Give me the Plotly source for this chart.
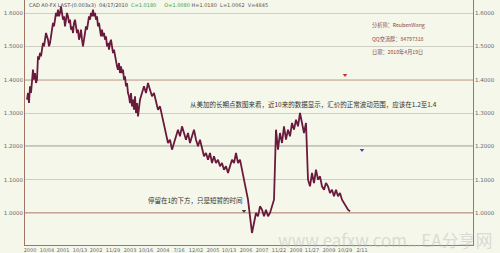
import plotly.graph_objects as go

# ---------------- data ----------------
# bar number (position along the time axis) and price of USD/CAD
bar = [2, 3, 4, 5, 6, 7, 8, 9, 10, 11, 12, 13, 14, 15, 16, 17, 18, 19, 20, 21, 22, 23, 24, 25, 26,
       27, 28, 29, 30, 31, 32, 33, 34, 35, 36, 37, 38, 39, 40, 41, 42, 43, 44, 45, 46, 47, 48, 49,
       50, 51, 52, 53, 54, 55, 56, 57, 58, 59, 60, 61, 62, 63, 64, 65, 66, 67, 68, 69, 70, 71, 72,
       73, 74, 75, 76, 77, 78, 79, 80, 81, 82, 83, 84, 85, 86, 87, 88, 89, 90, 91, 92, 93, 94, 95,
       96, 97, 98, 99, 100, 101, 102, 103, 104, 105, 106, 107, 108, 109, 110, 111, 112, 113, 114,
       115, 117, 119, 121, 123, 125, 127, 129, 131, 133, 135, 137, 139, 141, 143, 145, 147, 149,
       151, 153, 155, 157, 159, 161, 163, 165, 167, 169, 171, 173, 175, 177, 179, 181, 183, 185,
       187, 189, 191, 193, 195, 197, 199, 201, 203, 205, 207, 209, 211, 213, 215, 217, 219, 221,
       223, 225, 227, 229, 231, 233, 235, 237, 239, 241, 243, 245, 247, 249, 251, 253, 255, 257,
       259, 261, 263, 265, 267, 269, 271, 273, 275, 277, 279, 281, 283, 285, 287, 289, 291, 293,
       295, 297, 299, 301, 303, 305, 307, 309, 311, 313, 315, 317, 319, 321, 323, 325, 327, 329,
       331, 333, 335, 337, 339, 341, 343, 345, 347]
price = [1.34, 1.36, 1.33, 1.38, 1.36, 1.41, 1.43, 1.40, 1.42, 1.39, 1.40, 1.47, 1.46, 1.48, 1.47,
         1.49, 1.51, 1.50, 1.52, 1.54, 1.53, 1.52, 1.50, 1.51, 1.53, 1.55, 1.57, 1.56, 1.58, 1.60,
         1.59, 1.61, 1.59, 1.60, 1.62, 1.60, 1.58, 1.59, 1.56, 1.58, 1.60, 1.59, 1.57, 1.58, 1.55,
         1.56, 1.54, 1.57, 1.58, 1.56, 1.54, 1.55, 1.52, 1.53, 1.55, 1.52, 1.50, 1.52, 1.54, 1.56,
         1.55, 1.57, 1.59, 1.58, 1.60, 1.59, 1.61, 1.59, 1.60, 1.58, 1.59, 1.56, 1.57, 1.55, 1.53,
         1.55, 1.53, 1.54, 1.52, 1.53, 1.50, 1.51, 1.49, 1.51, 1.52, 1.50, 1.48, 1.49, 1.47, 1.45,
         1.44, 1.43, 1.45, 1.42, 1.44, 1.42, 1.43, 1.40, 1.41, 1.38, 1.39, 1.36, 1.35, 1.33, 1.36,
         1.32, 1.34, 1.31, 1.35, 1.30, 1.33, 1.29, 1.32, 1.34, 1.36, 1.38, 1.36, 1.39, 1.37, 1.35,
         1.36, 1.33, 1.31, 1.32, 1.29, 1.26, 1.23, 1.21, 1.22, 1.19, 1.21, 1.23, 1.25, 1.23, 1.26,
         1.24, 1.22, 1.24, 1.21, 1.23, 1.25, 1.22, 1.20, 1.22, 1.19, 1.17, 1.18, 1.16, 1.18, 1.15,
         1.17, 1.15, 1.16, 1.14, 1.15, 1.13, 1.14, 1.12, 1.14, 1.16, 1.15, 1.18, 1.15, 1.16, 1.13,
         1.10, 1.07, 1.04, 0.99, 0.94, 0.97, 1.00, 0.99, 1.02, 1.01, 0.99, 1.01, 0.99, 1.00, 1.02,
         1.04, 1.25, 1.19, 1.24, 1.21, 1.26, 1.22, 1.25, 1.23, 1.27, 1.25, 1.28, 1.26, 1.30, 1.27,
         1.24, 1.27, 1.10, 1.08, 1.12, 1.09, 1.13, 1.10, 1.11, 1.08, 1.07, 1.09, 1.08, 1.06, 1.07,
         1.05, 1.07, 1.05, 1.06, 1.04, 1.03, 1.02, 1.01, 1.005]

tick_bar = [5, 22, 38, 55, 71, 88, 105, 121, 138, 154, 171, 188, 204, 221, 237, 254, 271, 287,
            304, 320, 337]
tick_text = ["2000", "10/04", "2001", "10/13", "2002", "11/29", "2003", "10/16", "2004", "7/16",
             "12/02", "2005", "10/13", "2006", "2007", "11/22", "2008", "11/27", "2009", "10/29",
             "2/11"]

y_ticks = [1.0, 1.1, 1.2, 1.3, 1.4, 1.5, 1.6]
key_levels = [1.0, 1.2, 1.4]

signal_bar = [219, 320, 337]
signal_price = [1.006, 1.414, 1.189]
signal_color = ["#404040", "#d03030", "#3050c0"]

X_RANGE = [0, 448]
Y_RANGE = [0.904, 1.639]

BG = "#f5f7ea"
AXIS = "#a27462"
KEY = "#b58a7a"
GRID = "#cfcec2"
LINE = "#6a1a3c"

fig = go.Figure()
fig.add_trace(go.Scatter(x=bar, y=price, mode="lines",
                         line=dict(color=LINE, width=1.8), showlegend=False,
                         hoverinfo="skip"))
fig.add_trace(go.Scatter(x=signal_bar, y=signal_price, mode="markers",
                         marker=dict(symbol="triangle-down", size=4, color=signal_color),
                         showlegend=False, hoverinfo="skip"))
# invisible trace to activate right axis
fig.add_trace(go.Scatter(x=[bar[0]], y=[price[0]], yaxis="y2", mode="markers",
                         marker=dict(opacity=0), showlegend=False, hoverinfo="skip"))

for lv in key_levels:
    fig.add_shape(type="line", xref="paper", x0=0, x1=1, yref="y", y0=lv, y1=lv,
                  line=dict(color=KEY, width=1.5), layer="below")

tickfont = dict(family="DejaVu Sans", size=5.5, color="#6a6a6a")
fig.update_layout(
    width=500, height=253,
    margin=dict(l=25, r=27, t=0, b=8),
    paper_bgcolor=BG, plot_bgcolor=BG,
    xaxis=dict(range=X_RANGE, tickvals=tick_bar, ticktext=tick_text, showgrid=False,
               zeroline=False, showline=True, linecolor=AXIS, linewidth=1,
               tickfont=dict(family="DejaVu Sans", size=5, color="#6a6a6a"), ticks="",
               ticklabelstandoff=0),
    yaxis=dict(range=Y_RANGE, tickvals=y_ticks, tickformat=".4f", showgrid=True,
               gridcolor=GRID, gridwidth=1, zeroline=False, showline=True, linecolor=AXIS,
               linewidth=1, tickfont=tickfont, ticks=""),
    yaxis2=dict(range=Y_RANGE, tickvals=y_ticks, tickformat=".4f", overlaying="y",
                side="right", showgrid=False, zeroline=False, showline=True,
                linecolor=AXIS, linewidth=1, tickfont=tickfont, ticks=""),
)

cjk = "Noto Sans CJK SC"
header = ("<span style='color:#3c4a66'>CAD A0-FX LAST-(0.003x3)</span>  "
          "<span style='color:#3c4a66'>04/17/2010</span>  "
          "<span style='color:#3aa040'>C=1.0180</span>     "
          "<span style='color:#3aa040'>O=1.0080</span> "
          "<span style='color:#555555'>H=1.0180  L=1.0062  V=4845</span>")
fig.add_annotation(text=header, xref="paper", yref="paper", x=0.005, y=1.0,
                   xanchor="left", yanchor="top", showarrow=False,
                   font=dict(family="DejaVu Sans", size=5, color="#444"))

info_color = "#8a4848"
for i, t in enumerate(["分析师：ReubenWang", "QQ交流群：84797318", "日期：2010年4月19日"]):
    fig.add_annotation(text=t, xref="paper", yref="paper", x=(370 - 25) / 448,
                       y=1 - (25 + 13.5 * i) / 245, xanchor="left", yanchor="middle",
                       showarrow=False, font=dict(family=cjk, size=5.2, color=info_color))

fig.add_annotation(text="从美加的长期点数图来看，近10来的数据显示，汇价的正常波动范围，应该在1.2至1.4",
                   xref="paper", yref="paper", x=(188 - 25) / 448, y=1 - 104 / 245,
                   xanchor="left", yanchor="middle", showarrow=False,
                   font=dict(family=cjk, size=6.5, color="#333333"))
fig.add_annotation(text="停留在1的下方，只是短暂的时间",
                   xref="paper", yref="paper", x=(146 - 25) / 448, y=1 - 200 / 245,
                   xanchor="left", yanchor="middle", showarrow=False,
                   font=dict(family=cjk, size=6.5, color="#333333"))

fig.add_annotation(text="www.eafxw.com...EA分享网", xref="paper", yref="paper",
                   x=(385 - 25) / 448, y=1 - 239 / 245, xanchor="center", yanchor="middle",
                   showarrow=False,
                   font=dict(family=cjk, size=17, color="rgba(190,190,190,0.5)"))

fig.write_html("out.html")
